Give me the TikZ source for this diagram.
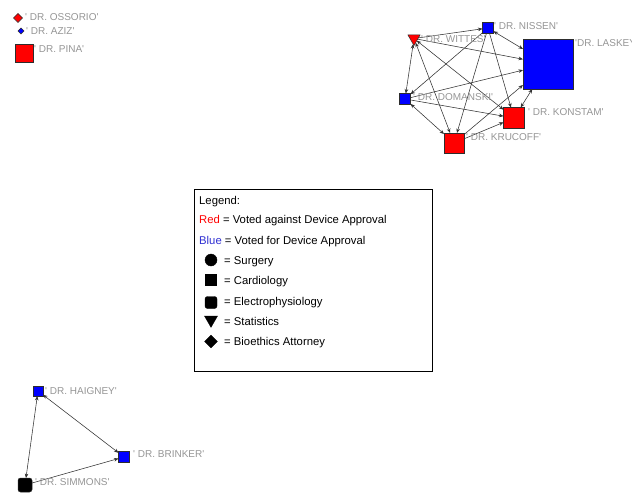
\documentclass[tikz,border=0pt]{standalone}
\usepackage{fontspec}
\setmainfont{Liberation Sans}
\usetikzlibrary{shapes.geometric,arrows.meta}
\definecolor{votered}{RGB}{255,0,0}
\definecolor{voteblue}{RGB}{0,0,255}
\definecolor{legblue}{RGB}{48,48,210}
\definecolor{namegray}{RGB}{150,150,150}
\definecolor{tiegray}{RGB}{50,50,50}
\definecolor{rimgray}{RGB}{45,45,45}
\newcommand{\tq}{\textquotesingle}
\begin{document}
\begin{tikzpicture}[x=1pt,y=-1pt,
  >={Stealth[length=4.5pt,width=3.6pt]},
  actor/.style={draw=rimgray, line width=0.5pt, inner sep=0pt, outer sep=0pt},
  sqnode/.style={actor, rectangle, minimum size=#1},
  rsqnode/.style={actor, rectangle, rounded corners=2.5pt, minimum size=#1},
  dmnode/.style={actor, diamond, minimum size=#1},
  trinode/.style={actor, regular polygon, regular polygon sides=3,
                  shape border rotate=180, minimum size=#1},
  tie/.style={draw=tiegray, line width=0.55pt},
  who/.style={text=namegray, font=\fontsize{10}{11}\selectfont,
              anchor=base west, inner sep=0pt},
  legtext/.style={font=\fontsize{11.3}{13}\selectfont,
                  anchor=base west, inner sep=0pt},
  legmark/.style={fill=black, draw=black, line width=0.4pt, inner sep=0pt}
]
\useasboundingbox (0,0) rectangle (632,495);
\fill[white] (0,0) rectangle (632,495);

% ---- isolated members (top left)
\node[dmnode=9, fill=votered]  (oss) at (18,18) {};
\node[dmnode=6, fill=voteblue] (azi) at (21,31) {};
\node[sqnode=18, fill=votered] (pin) at (24,53) {};

% ---- main cluster (top right)
\node[trinode=14, fill=votered] (wit) at (414,38.5) {};
\node[sqnode=11, fill=voteblue] (nis) at (488,28) {};
\node[sqnode=50, fill=voteblue] (las) at (548,64) {};
\node[sqnode=11, fill=voteblue] (dom) at (405,99) {};
\node[sqnode=21, fill=votered]  (kon) at (514,118) {};
\node[sqnode=20, fill=votered]  (kru) at (454,143) {};

% ---- small triad (bottom left)
\node[sqnode=10, fill=voteblue] (hai) at (38,391) {};
\node[sqnode=11, fill=voteblue] (bri) at (124,457) {};
\node[rsqnode=14, fill=black]   (sim) at (25,485) {};

% ---- ties
\draw[tie,<->] (wit) -- (dom);
\draw[tie,->]  (wit) -- (nis);
\draw[tie,->]  (wit) -- (las);
\draw[tie,<->] (wit) -- (kon);
\draw[tie,<->] (wit) -- (kru);
\draw[tie,<->] (nis) -- (las);
\draw[tie,->]  (nis) -- (dom);
\draw[tie,->]  (nis) -- (kru);
\draw[tie,->]  (nis) -- (kon);
\draw[tie,->]  (dom) -- (las);
\draw[tie,->]  (dom) -- (kon);
\draw[tie,<->] (dom) -- (kru);
\draw[tie,->]  (kru) -- (kon);
\draw[tie,->]  (kru) -- (las);
\draw[tie,<->] (kon) -- (las);

\draw[tie,<->] (hai) -- (bri);
\draw[tie,<->] (hai) -- (sim);
\draw[tie,->]  (sim) -- (bri);

% ---- member names
\node[who] (loss) at (25,21)   {\tq\ DR. OSSORIO\tq};
\node[who] (lazi) at (26,35)   {\tq\ DR. AZIZ\tq};
\node[who] (lpin) at (34,53)   {\tq\ DR. PINA\tq};
\node[who] (lwit) at (421,43)  {\tq\ DR. WITTES\tq};
\node[who] (lnis) at (494,29.5){\tq\ DR. NISSEN\tq};
\node[who] (llas) at (575,47)  {\tq DR. LASKEY\tq};
\node[who] (ldom) at (413,100.5){\tq\ DR. DOMANSKI\tq};
\node[who] (lkon) at (528,115) {\tq\ DR. KONSTAM\tq};
\node[who] (lkru) at (466,140) {\tq\ DR. KRUCOFF\tq};
\node[who] (lhai) at (45,394)  {\tq\ DR. HAIGNEY\tq};
\node[who] (lbri) at (133,457) {\tq\ DR. BRINKER\tq};
\node[who] (lsim) at (35,485)  {\tq\ DR. SIMMONS\tq};

% ---- legend
\node[draw=black, line width=0.8pt, fill=white, inner sep=0pt,
      minimum width=238pt, minimum height=182pt] (legend) at (313,280) {};
\node[legtext] (lg0) at (199,204) {Legend:};
\node[legtext] (lg1) at (199,223) {\textcolor{votered}{Red} = Voted against Device Approval};
\node[legtext] (lg2) at (199,244) {\textcolor{legblue}{Blue} = Voted for Device Approval};
\node[legmark, circle, minimum size=12pt] (mk1) at (211,260) {};
\node[legtext] (lg3) at (224,264.5) {= Surgery};
\node[legmark, rectangle, minimum size=11pt] (mk2) at (211,279.5) {};
\node[legtext] (lg4) at (224,284.5) {= Cardiology};
\node[legmark, rectangle, rounded corners=2.5pt, minimum size=12pt] (mk3) at (211,302.5) {};
\node[legtext] (lg5) at (224,305) {= Electrophysiology};
\node[legmark, regular polygon, regular polygon sides=3, shape border rotate=180,
      minimum size=15pt] (mk4) at (211,319.8) {};
\node[legtext] (lg6) at (224,325) {= Statistics};
\node[legmark, diamond, minimum size=13pt] (mk5) at (211,341.5) {};
\node[legtext] (lg7) at (224,345.7) {= Bioethics Attorney};
\end{tikzpicture}
\end{document}
